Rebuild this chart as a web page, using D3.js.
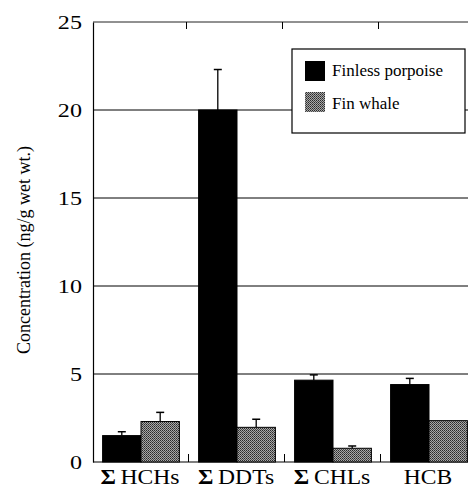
<!DOCTYPE html>
<html><head><meta charset="utf-8">
<script src="https://cdn.jsdelivr.net/npm/d3@7"></script>
<style>body{margin:0;background:#fff}svg{display:block}</style>
</head><body>
<script>
const categories = ["HCHs", "DDTs", "CHLs", "HCB"];
const catSigma = [true, true, true, false];
const seriesNames = ["Finless porpoise", "Fin whale"];
const porpoise = [1.5, 20.0, 4.65, 4.4];
const porpoiseErr = [0.22, 2.3, 0.3, 0.35];
const finWhale = [2.3, 1.97, 0.78, 2.35];
const finWhaleErr = [0.52, 0.46, 0.13, 0];
const yTicks = [0, 5, 10, 15, 20, 25];

const SERIF = "Liberation Serif, Times New Roman, serif";
const W = 468, H = 489;
const svg = d3.select("body").append("svg").attr("width", W).attr("height", H);
const defs = svg.append("defs");
const pat = defs.append("pattern").attr("id", "dots").attr("patternUnits", "userSpaceOnUse")
  .attr("width", 2).attr("height", 2);
pat.append("rect").attr("width", 2).attr("height", 2).attr("fill", "#a8a8a8");
pat.append("rect").attr("width", 1).attr("height", 1).attr("fill", "#2a2a2a");
pat.append("rect").attr("x", 1).attr("y", 1).attr("width", 1).attr("height", 1).attr("fill", "#4a4a4a");

const x0 = 93, x1 = 477, yTop = 22, yBot = 462;
const y = d3.scaleLinear().domain([0, 25]).range([yBot, yTop]);
const x = d3.scaleBand().domain(categories).range([x0, x1]).paddingInner(0.2).paddingOuter(0.1);
const xs = d3.scaleBand().domain(seriesNames).range([0, x.bandwidth()]);
const bandStep = x.step();
const sepX = d => x(d) - (bandStep - x.bandwidth()) / 2 - 0.5;

// gridlines
svg.append("g").selectAll("line").data(yTicks.filter(d => d > 0 && d < 25)).join("line")
  .attr("x1", x0).attr("x2", W).attr("y1", d => y(d)).attr("y2", d => y(d))
  .attr("stroke", "#000").attr("stroke-width", 1);
// top frame line
svg.append("line").attr("x1", x0).attr("x2", W).attr("y1", y(25)).attr("y2", y(25))
  .attr("stroke", "#222").attr("stroke-width", 1);

// left axis
const ax = svg.append("g").attr("transform", `translate(${x0},0)`)
  .call(d3.axisLeft(y).tickValues(yTicks).tickSize(0).tickPadding(8.7));
ax.select(".domain").attr("stroke", "#000").attr("stroke-width", 1.2);
ax.selectAll("text").attr("font-family", SERIF)
  .attr("font-size", 19).attr("fill", "#000").attr("transform", "scale(1.27,1)");

// bottom axis line
svg.append("line").attr("x1", x0).attr("x2", W).attr("y1", yBot).attr("y2", yBot)
  .attr("stroke", "#000").attr("stroke-width", 1.2);
// category separators (bottom and top)
svg.append("g").selectAll("line").data(categories.slice(1)).join("line")
  .attr("x1", sepX).attr("x2", sepX)
  .attr("y1", yBot).attr("y2", yBot - 8).attr("stroke", "#000").attr("stroke-width", 1);
svg.append("g").selectAll("line").data(categories.slice(1)).join("line")
  .attr("x1", d => sepX(d) - 2).attr("x2", d => sepX(d) - 2)
  .attr("y1", y(25)).attr("y2", y(25) + 7).attr("stroke", "#000").attr("stroke-width", 1);

const series = [
  {name: seriesNames[0], vals: porpoise, err: porpoiseErr, fill: "#000"},
  {name: seriesNames[1], vals: finWhale, err: finWhaleErr, fill: "url(#dots)"}
];
series.forEach(s => {
  const g = svg.append("g");
  const data = categories.map((c, i) => ({c, v: s.vals[i], e: s.err[i]}));
  const cx = d => x(d.c) + xs(s.name) + xs.bandwidth() / 2;
  g.selectAll("line.err").data(data.filter(d => d.e > 0)).join("line")
    .attr("x1", cx).attr("x2", cx)
    .attr("y1", d => y(d.v)).attr("y2", d => y(d.v + d.e))
    .attr("stroke", "#000").attr("stroke-width", 1.3);
  g.selectAll("line.cap").data(data.filter(d => d.e > 0)).join("line")
    .attr("x1", d => cx(d) - 4).attr("x2", d => cx(d) + 4)
    .attr("y1", d => y(d.v + d.e)).attr("y2", d => y(d.v + d.e))
    .attr("stroke", "#000").attr("stroke-width", 1.5);
  g.selectAll("rect").data(data).join("rect")
    .attr("x", d => x(d.c) + xs(s.name)).attr("width", xs.bandwidth())
    .attr("y", d => y(d.v)).attr("height", d => yBot - y(d.v))
    .attr("fill", s.fill).attr("stroke", "#000").attr("stroke-width", 1);
});

// x labels
const sx = 1.18;
const lab = svg.append("g").selectAll("text").data(categories).join("text")
  .attr("transform", d => `translate(${x(d) + x.bandwidth() / 2 - 1},484) scale(${sx},1)`)
  .attr("text-anchor", "middle")
  .attr("font-family", SERIF).attr("font-size", 20).attr("fill", "#000");
lab.each(function(d, i) {
  const t = d3.select(this);
  if (catSigma[i]) t.append("tspan").attr("font-weight", "bold").text("Σ");
  t.append("tspan").attr("dx", catSigma[i] ? 4 : 0).text(d);
});

// y title
svg.append("text").attr("transform", "translate(30,250) rotate(-90)")
  .attr("text-anchor", "middle").attr("font-family", SERIF)
  .attr("font-size", 18).attr("fill", "#000").text("Concentration (ng/g wet wt.)");

// legend
const lg = svg.append("g");
lg.append("rect").attr("x", 292).attr("y", 49).attr("width", 173).attr("height", 84)
  .attr("fill", "#fff").attr("stroke", "#000").attr("stroke-width", 1.2);
series.forEach((s, i) => {
  lg.append("rect").attr("x", 305).attr("y", 61 + i * 31).attr("width", 20).attr("height", 20)
    .attr("fill", s.fill);
  lg.append("text").attr("x", 332).attr("y", 76 + i * 33)
    .attr("font-family", SERIF).attr("font-size", 17)
    .attr("fill", "#000").text(s.name);
});
</script>
</body></html>
